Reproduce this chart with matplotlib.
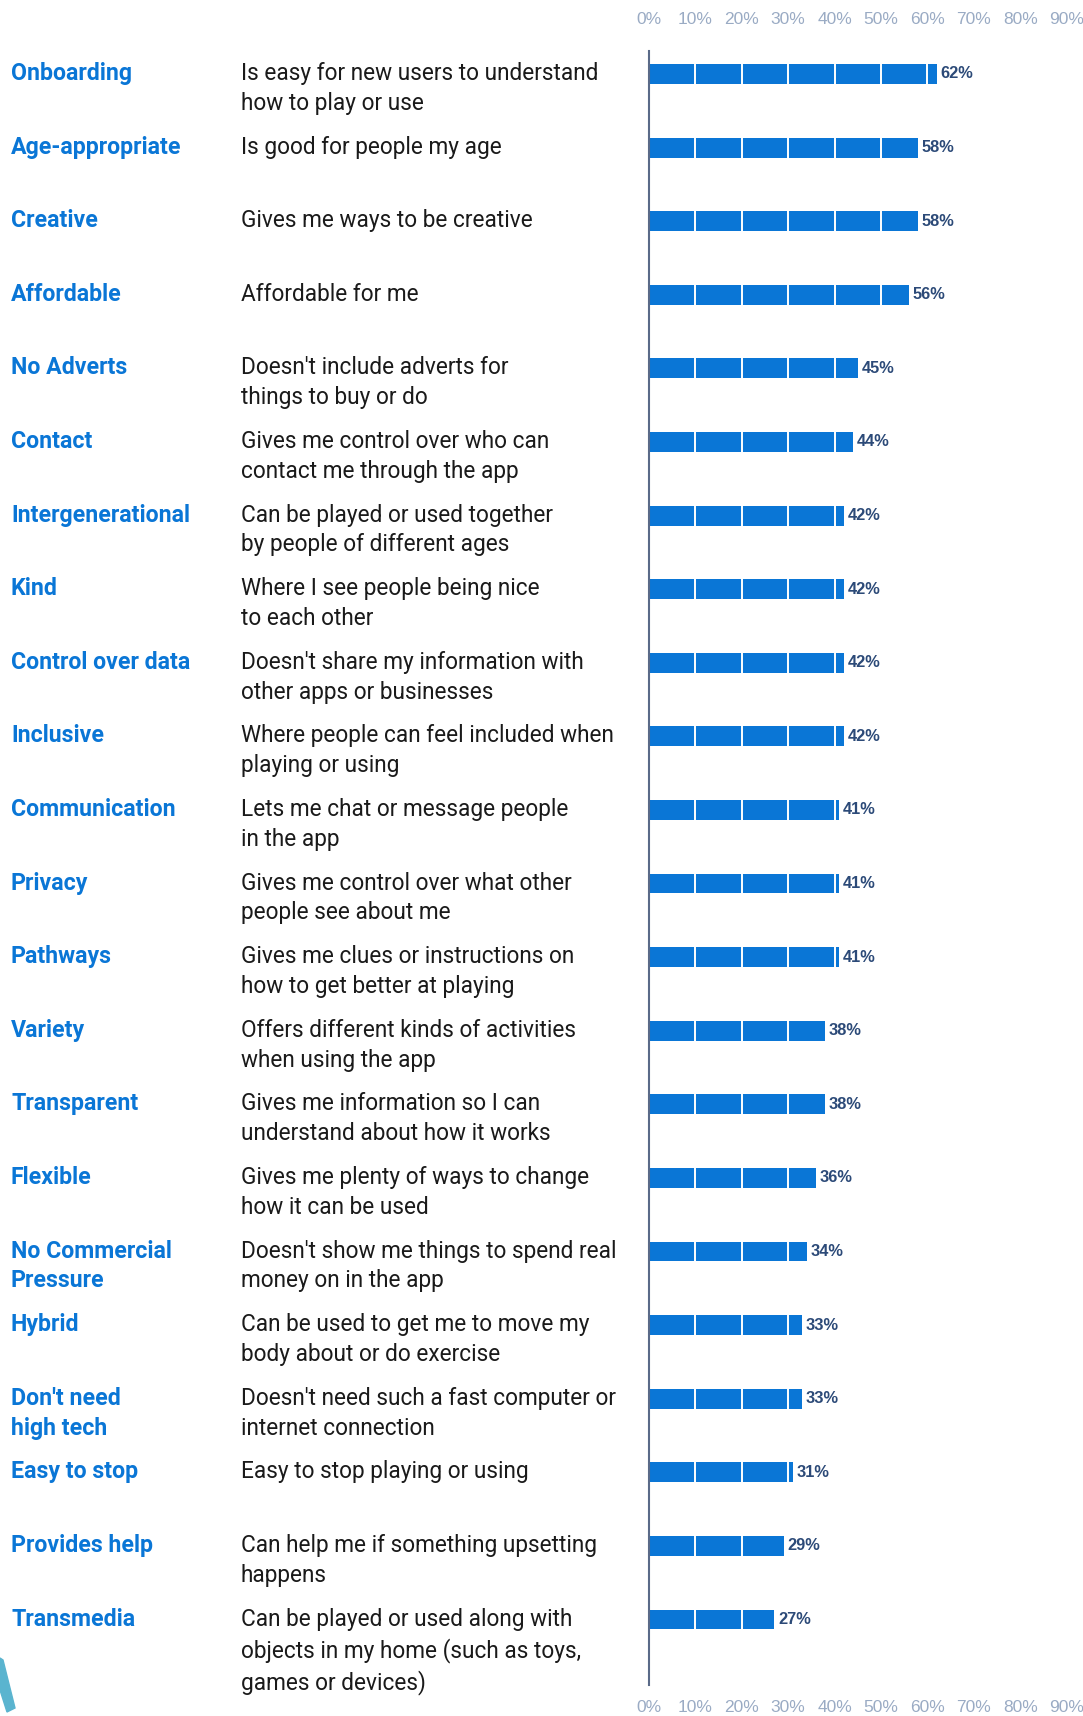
import matplotlib.pyplot as plt
import matplotlib.transforms as mtransforms
from matplotlib.patches import Polygon

plt.rcParams['font.family'] = ['Roboto', 'DejaVu Sans']

categories = ['Onboarding', 'Age-appropriate', 'Creative', 'Affordable', 'No Adverts',
              'Contact', 'Intergenerational', 'Kind', 'Control over data', 'Inclusive',
              'Communication', 'Privacy', 'Pathways', 'Variety', 'Transparent', 'Flexible',
              'No Commercial\nPressure', 'Hybrid', "Don't need\nhigh tech", 'Easy to stop',
              'Provides help', 'Transmedia']

descriptions = ['Is easy for new users to understand\nhow to play or use',
                'Is good for people my age',
                'Gives me ways to be creative',
                'Affordable for me',
                "Doesn't include adverts for\nthings to buy or do",
                'Gives me control over who can\ncontact me through the app',
                'Can be played or used together\nby people of different ages',
                'Where I see people being nice\nto each other',
                "Doesn't share my information with\nother apps or businesses",
                'Where people can feel included when\nplaying or using',
                'Lets me chat or message people\nin the app',
                'Gives me control over what other\npeople see about me',
                'Gives me clues or instructions on\nhow to get better at playing',
                'Offers different kinds of activities\nwhen using the app',
                'Gives me information so I can\nunderstand about how it works',
                'Gives me plenty of ways to change\nhow it can be used',
                "Doesn't show me things to spend real\nmoney on in the app",
                'Can be used to get me to move my\nbody about or do exercise',
                "Doesn't need such a fast computer or\ninternet connection",
                'Easy to stop playing or using',
                'Can help me if something upsetting\nhappens',
                'Can be played or used along with\nobjects in my home (such as toys,\ngames or devices)']

values = [62, 58, 58, 56, 45, 44, 42, 42, 42, 42, 41, 41, 41, 38, 38, 36, 34, 33, 33, 31, 29, 27]
ticks = [0, 10, 20, 30, 40, 50, 60, 70, 80, 90]
tick_labels = [f'{t}%' for t in ticks]

BLUE = '#0a76d6'
NAVY = '#2c4a78'
GREY = '#9aabc4'

W, H = 1083, 1716
fig = plt.figure(figsize=(W / 100, H / 100), dpi=100)

# bar panel: 0% sits at x=649px, rows from 51px to 1685px
ax = fig.add_axes([649 / W, 1 - 1685 / H, 428 / W, (1685 - 51) / H])
ax.set_xlim(0, 428 / 4.64)
ax.set_ylim(21.89, -0.3125)

y = list(range(len(values)))
ax.barh(y, values, height=0.27, color=BLUE, zorder=2)
for t in ticks[1:]:
    ax.axvline(t, color='white', lw=1.4, zorder=3)

for yi, v in zip(y, values):
    ax.text(v + 0.8, yi, f'{v}%', va='center', ha='left', fontsize=11.8,
            fontweight='bold', color=NAVY, family=['Liberation Sans', 'DejaVu Sans'])

for s in ['top', 'right', 'bottom']:
    ax.spines[s].set_visible(False)
ax.spines['left'].set_color('#5a6a88')
ax.spines['left'].set_linewidth(1.5)
ax.set_yticks([])

# percentage scale below and above the bars
ax.set_xticks(ticks, tick_labels)
ax.tick_params(axis='x', length=0, colors=GREY, labelsize=12.5, pad=11)
top = ax.secondary_xaxis('top')
top.set_xticks(ticks, tick_labels)
top.tick_params(axis='x', length=0, colors=GREY, labelsize=12.5, pad=17)
top.spines['top'].set_visible(False)
for lab in ax.get_xticklabels() + top.get_xticklabels():
    lab.set_family(['Liberation Sans', 'DejaVu Sans'])

# left-hand text columns
tr = mtransforms.blended_transform_factory(fig.transFigure, ax.transData)
off = mtransforms.ScaledTranslation(0, 12 / 100, fig.dpi_scale_trans)
for yi, cat, desc in zip(y, categories, descriptions):
    ax.text(11 / W, yi, cat, transform=tr + off, ha='left', va='top', fontsize=16.7,
            fontweight='bold', color=BLUE, linespacing=1.38, clip_on=False)
    ax.text(241 / W, yi, desc, transform=tr + off, ha='left', va='top', fontsize=16.3,
            color='#1a1a1a', linespacing=1.38, clip_on=False)

# corner decoration
fig.patches.append(Polygon([(0 / W, 1 - 1658 / H), (3 / W, 1 - 1660 / H), (15 / W, 1 - 1708 / H),
                            (7 / W, 1 - 1712 / H), (0 / W, 1 - 1690 / H)],
                           closed=True, transform=fig.transFigure, color='#5ab4cf'))

fig.savefig('out.png', dpi=100)
